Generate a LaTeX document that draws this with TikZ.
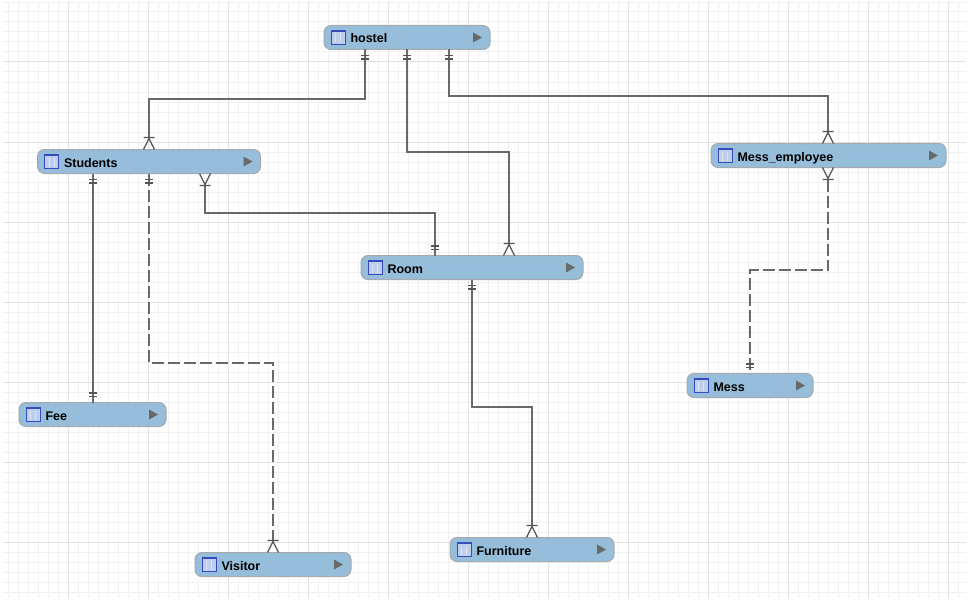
\documentclass[tikz,border=0pt]{standalone}
\usepackage{fontspec}
\setmainfont{Liberation Sans}
\usepackage{xcolor}
\definecolor{tableblue}{RGB}{150,189,217}
\definecolor{tableedge}{RGB}{165,170,175}
\definecolor{relgray}{RGB}{105,105,105}
\definecolor{markgray}{RGB}{85,85,85}
\definecolor{iconblue}{RGB}{55,75,190}
\definecolor{iconfill}{RGB}{190,207,238}
\definecolor{gridminor}{RGB}{241,241,241}
\definecolor{gridmajor}{RGB}{226,226,226}

\tikzset{
	tablebox/.style={draw=tableedge, fill=tableblue, line width=1pt, rounded corners=7pt, anchor=north west,
		inner xsep=26.5pt, inner ysep=0pt, outer sep=0pt, text width=#1-54pt, text height=11pt, text depth=0pt, minimum height=24pt, align=left,
		font=\fontsize{12.5}{15}\selectfont\bfseries},
	relline/.style={draw=relgray, line width=1.7pt},
	reldash/.style={relline, dash pattern=on 12pt off 4pt},
	markline/.style={draw=markgray, solid, line width=1.2pt},
	onedown/.pic={\draw[markline] (-4,6) -- (4,6) (-4,9.5) -- (4,9.5);},
	oneup/.pic={\draw[markline] (-4,-6) -- (4,-6) (-4,-9.5) -- (4,-9.5);},
	manyup/.pic={\draw[markline] (-5.5,0) -- (5.5,0) (-5.5,12) -- (0,1) -- (5.5,12);},
	manydown/.pic={\draw[markline] (-5.5,0) -- (5.5,0) (-5.5,-12) -- (0,-1) -- (5.5,-12);}
}

\newcommand{\tablemarks}[1]{
	\draw[draw=iconblue, fill=iconfill, line width=1pt] ([xshift=7pt,yshift=-5pt]#1.north west) rectangle ++(14,14);
	\draw[draw=iconblue, line width=1.6pt] ([xshift=7pt,yshift=-5.5pt]#1.north west) -- ++(14,0);
	\draw[draw=white!85!iconblue, line width=0.9pt] ([xshift=11.5pt,yshift=-8pt]#1.north west) -- ++(0,9) ([xshift=16.5pt,yshift=-8pt]#1.north west) -- ++(0,9);
	\fill[relgray] ([xshift=-17pt,yshift=-7pt]#1.north east) -- ++(9,5) -- ++(-9,5) -- cycle;
}

\begin{document}
\begin{tikzpicture}[x=1pt, y=-1pt]
	\useasboundingbox (0,0) rectangle (969,602);
	\fill[white] (0,0) rectangle (969,602);
	
	% background grid
	\draw[gridminor, line width=1pt, shift={(8,2)}] (-5,0) grid[step=10pt] (958,596);
	\draw[gridmajor, line width=1pt, shift={(68,62)}] (-65,-60) grid[step=80pt] (898,536);
	
	\node[tablebox=167pt] (hostel) at (324,25.5) {hostel};
	\node[tablebox=224pt] (students) at (37.5,149.5) {Students};
	\node[tablebox=236pt] (messemployee) at (711,143.5) {Mess\_employee};
	\node[tablebox=223pt] (room) at (361,255.5) {Room};
	\node[tablebox=148pt] (fee) at (19,402.5) {Fee};
	\node[tablebox=127pt] (mess) at (687,373.5) {Mess};
	\node[tablebox=157pt] (visitor) at (195,552.5) {Visitor};
	\node[tablebox=165pt] (furniture) at (450,537.5) {Furniture};
	
	\tablemarks{hostel}
	\tablemarks{students}
	\tablemarks{messemployee}
	\tablemarks{room}
	\tablemarks{fee}
	\tablemarks{mess}
	\tablemarks{visitor}
	\tablemarks{furniture}
	
	% hostel
	\draw[relline] ([xshift=41pt]hostel.south west) pic {onedown} -- ++(0,49.5) -| ([xshift=111.5pt,yshift=12pt]students.north west) pic {manyup};
	\draw[relline] ([xshift=83pt]hostel.south west) pic {onedown} -- ++(0,102.5) -| ([xshift=148pt,yshift=12pt]room.north west) pic {manyup};
	\draw[relline] ([xshift=125pt]hostel.south west) pic {onedown} -- ++(0,46.5) -| ([xshift=117pt,yshift=12pt]messemployee.north west) pic {manyup};
	
	% students
	\draw[relline] ([xshift=55.5pt]students.south west) pic {onedown} -- ([xshift=74pt]fee.north west) pic {oneup};
	\draw[reldash] ([xshift=111.5pt]students.south west) pic {onedown} -- ++(0,189.4) -| ([xshift=78pt,yshift=12pt]visitor.north west) pic {manyup};
	\draw[relline] ([xshift=167.5pt,yshift=-12pt]students.south west) pic {manydown} -- ++(0,27.5) -| ([xshift=74pt]room.north west) pic {oneup};
	
	% room
	\draw[relline] ([xshift=111pt]room.south west) pic {onedown} -- ++(0,127.5) -| ([xshift=82pt,yshift=12pt]furniture.north west) pic {manyup};
	
	% mess
	\draw[reldash] ([xshift=117pt,yshift=-12pt]messemployee.south west) pic {manydown} -- ++(0,90.5) -| ([xshift=63pt]mess.north west) pic {oneup};
\end{tikzpicture}
\end{document}
